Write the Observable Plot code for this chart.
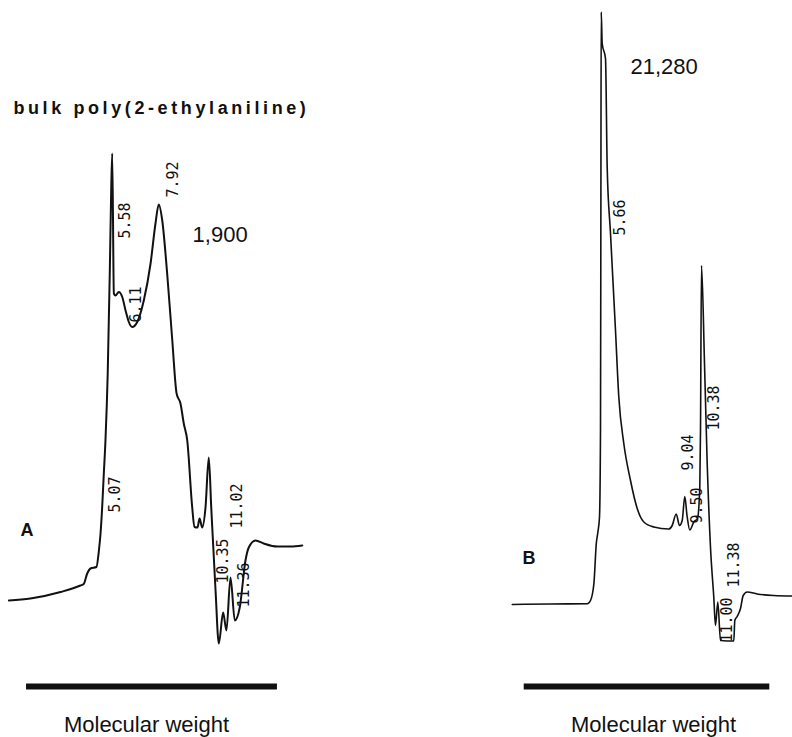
<!DOCTYPE html>
<html>
<head>
<meta charset="utf-8">
<script src="https://cdn.jsdelivr.net/npm/d3@7"></script>
<script src="https://cdn.jsdelivr.net/npm/@observablehq/plot@0.6"></script>
<style>
  body { margin: 0; background: #fff; }
  #row { display: flex; width: 792px; height: 737px; }
</style>
</head>
<body>
<div id="row"></div>
<script>
// ---- Chromatogram A: bulk poly(2-ethylaniline) (retention time, min / detector response, a.u.)
const timeA = [0.54, 1.59, 3.06, 4.03, 4.19, 4.36, 4.52, 4.81, 4.93, 5.01, 5.09, 5.17, 5.25, 5.36, 5.46, 5.53, 5.58,
  5.66, 5.74, 5.90, 6.07, 6.23, 6.39, 6.55, 6.80, 7.12, 7.45, 7.69, 7.85, 8.02, 8.26, 8.51, 8.72, 8.91, 9.07, 9.24,
  9.48, 9.59, 9.74, 9.84, 9.97, 10.13, 10.29, 10.41, 10.62, 10.78, 10.99, 11.15, 11.35, 11.56, 11.80, 12.08, 12.24,
  12.57, 12.97, 13.63, 14.28, 14.85];
const respA = [0, 0.4, 1.7, 3, 3.3, 5.4, 6.4, 6.7, 10, 13.4, 18.7, 25.4, 32, 45.4, 65.4, 82, 89.4,
  61.4, 61, 61.7, 60.7, 58, 55.7, 54.7, 55.7, 60, 67.4, 75.4, 79.2, 76, 65.4, 52, 41.4, 39.4, 35.4, 32,
  18.7, 14.7, 14.6, 16.4, 14.6, 18.6, 28.6, 18.6, 2, -8.6, -2.4, -6, 4.6, -4, -1.4, 8, 10.6,
  12, 11.4, 10.8, 10.8, 11];
const peaksA = [5.07, 5.58, 6.11, 7.92, 10.35, 11.02, 11.36];
const peakLabelRespA = [17.6, 72.4, 55.6, 80.6, 3.4, 14.4, -1.4];

// ---- Chromatogram B
const timeB = [0.92, 2.83, 4.67, 4.83, 5.00, 5.12, 5.20, 5.28, 5.33, 5.35, 5.365, 5.415, 5.58, 5.665, 5.83, 6.08,
  6.245, 6.495, 6.83, 7.165, 7.495, 7.995, 8.745, 8.915, 9.115, 9.28, 9.415, 9.545, 9.655, 9.795, 9.995, 10.18,
  10.295, 10.33, 10.38, 10.53, 10.665, 10.83, 10.995, 11.08, 11.195, 11.33, 11.995, 12.045, 12.165, 12.33, 12.465,
  12.665, 13.165, 13.995, 14.93];
const respB = [-0.8, -0.7, -0.66, 0, 3.4, 11.4, 13.7, 16.7, 34, 80, 117.7, 111.4, 108.4, 86.6, 73.4, 54,
  40.7, 31.4, 24, 18.4, 15.7, 14.7, 14.3, 15, 17.3, 15, 16, 20.8, 17, 14.1, 15.7, 16.4,
  22.7, 34, 67, 47.4, 27.4, 10.6, 0.6, -5, -0.3, -8, -8.1, -4, -3.2, -1.6, 1,
  1.7, 1.3, 1, 0.9];
const peaksB = [5.66, 9.04, 9.50, 10.38, 11.00, 11.38];
const peakLabelRespB = [73, 26, 15.4, 34, -8.4, 2.6];

// ---- Texts
const panelNames = ["A", "B"];
const molecularWeights = ["1,900", "21,280"];
const sampleTitle = "bulk poly(2-ethylaniline)";
const axisCaption = "Molecular weight";

const fmt = d3.format(".2f");
const yDomain = [-27.4, 120];

function panel({time, resp, xDomain, peaks, peakResp, name, namePos, mw, mwPos, bar, capPos, title, sw}) {
  const trace = time.map((t, i) => ({t, r: resp[i]}));
  const labels = peaks.map((p, i) => ({p, r: peakResp[i]}));
  const marks = [
    Plot.line(trace, {x: "t", y: "r", stroke: "#111", strokeWidth: sw, curve: "monotone-x", strokeLinejoin: "round"}),
    Plot.text(labels, {x: "p", y: "r", text: d => fmt(d.p), rotate: -90, textAnchor: "start", lineAnchor: "middle",
      dx: 13, fontFamily: "DejaVu Sans Mono", fontSize: 15, fill: "#111"}),
    Plot.text([name], {x: namePos[0], y: namePos[1], text: d => d, textAnchor: "start", lineAnchor: "bottom",
      fontFamily: "Liberation Sans", fontWeight: "bold", fontSize: 18, fill: "#111"}),
    Plot.text([mw], {x: mwPos[0], y: mwPos[1], text: d => d, textAnchor: "start", lineAnchor: "bottom",
      fontFamily: "Liberation Sans", fontSize: 22, fill: "#111"}),
    Plot.ruleY([bar[2]], {x1: bar[0], x2: bar[1], stroke: "#111", strokeWidth: 6}),
    Plot.text([axisCaption], {x: capPos[0], y: capPos[1], text: d => d, textAnchor: "middle", lineAnchor: "bottom",
      fontFamily: "Liberation Sans", fontSize: 22, fill: "#111"})
  ];
  if (title) {
    marks.push(Plot.text([title.text], {x: title.pos[0], y: title.pos[1], text: d => d, textAnchor: "start",
      lineAnchor: "bottom", fontFamily: "Liberation Sans", fontWeight: "bold", fontSize: 18, fill: "#111"}));
  }
  const svg = Plot.plot({
    width: 396, height: 737,
    marginTop: 0, marginRight: 0, marginBottom: 0, marginLeft: 0,
    style: {background: "#fff"},
    x: {domain: xDomain, axis: null},
    y: {domain: yDomain, axis: null},
    marks
  });
  if (title) {
    d3.select(svg).selectAll("text").filter(function () { return this.textContent === title.text; })
      .style("letter-spacing", "3.6px");
  }
  return svg;
}

const row = document.getElementById("row");
row.appendChild(panel({
  time: timeA, resp: respA, xDomain: [0.13, 19.447], peaks: peaksA, peakResp: peakLabelRespA,
  name: panelNames[0], namePos: [1.1, 13], mw: molecularWeights[0], mwPos: [9.5, 71.8],
  bar: [1.40, 13.64, -17.2], capPos: [7.25, -26.2], sw: 2,
  title: {text: sampleTitle, pos: [0.76, 97.4]}
}));
row.appendChild(panel({
  time: timeB, resp: respB, xDomain: [-4.87, 14.93], peaks: peaksB, peakResp: peakLabelRespB,
  name: panelNames[1], namePos: [1.43, 7.4], mw: molecularWeights[1], mwPos: [6.83, 105.4],
  bar: [1.515, 13.795, -17.2], capPos: [7.98, -26.2], sw: 1.6
}));
</script>
</body>
</html>
